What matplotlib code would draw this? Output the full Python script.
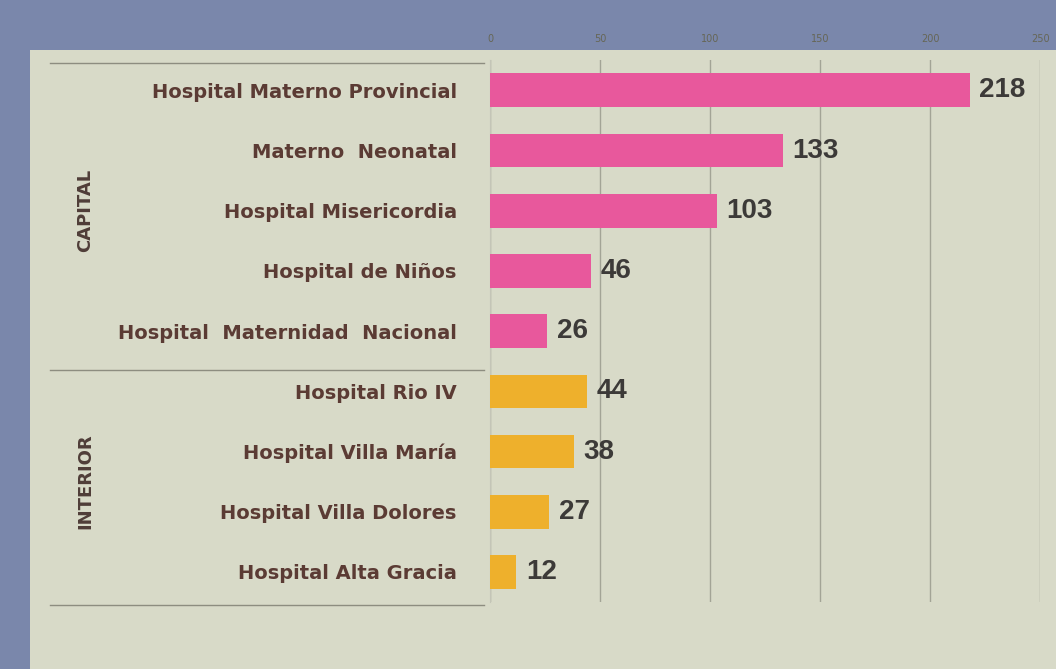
import matplotlib.pyplot as plt
import matplotlib.transforms as mtransforms
from matplotlib.patches import Rectangle

categories = ["Hospital Materno Provincial", "Materno  Neonatal", "Hospital Misericordia",
              "Hospital de Niños", "Hospital  Maternidad  Nacional",
              "Hospital Rio IV", "Hospital Villa María", "Hospital Villa Dolores",
              "Hospital Alta Gracia"]
values = [218, 133, 103, 46, 26, 44, 38, 27, 12]
groups = ["CAPITAL"] * 5 + ["INTERIOR"] * 4
group_names = ["CAPITAL", "INTERIOR"]
group_colors = {"CAPITAL": "#e8589c", "INTERIOR": "#eeb02c"}
xticks = [0, 50, 100, 150, 200, 250]

plt.rcParams['font.family'] = ['DejaVu Sans']

fig = plt.figure(figsize=(10.56, 6.69), dpi=100)
fig.patch.set_facecolor("#d8dac8")
# projector frame (bluish)
fig.add_artist(Rectangle((0, 0.925), 1, 0.075, transform=fig.transFigure,
                         facecolor="#7a87ab", edgecolor="none", zorder=0))
fig.add_artist(Rectangle((0, 0), 0.028, 1, transform=fig.transFigure,
                         facecolor="#7a87ab", edgecolor="none", zorder=0))

ax = fig.add_axes([0.464, 0.100, 0.521, 0.810])
ax.set_facecolor("#d8dac8")

ypos = list(range(len(categories)))
colors = [group_colors[g] for g in groups]
ax.barh(ypos, values, height=0.56, color=colors, zorder=3)

for y, v in zip(ypos, values):
    ax.annotate(str(v), (v, y), xytext=(7, 0), textcoords="offset points",
                va="center", ha="left", fontsize=20, fontweight="bold",
                family="Liberation Sans", color="#3c3a38", zorder=4)

ax.set_xlim(0, 250)
ax.set_ylim(len(categories) - 0.5, -0.5)
ax.set_xticks(xticks)
ax.set_xticklabels([str(t) for t in xticks], fontsize=7, color="#666655")
ax.xaxis.tick_top()
ax.tick_params(axis="x", length=0, pad=12)
ax.set_yticks(ypos)
ax.set_yticklabels(categories, fontsize=14, fontweight="bold", color="#5b3b34")
ax.tick_params(axis="y", length=0, pad=24)
ax.grid(axis="x", color="#a3a496", linewidth=1, zorder=1)

for s in ["top", "right", "bottom"]:
    ax.spines[s].set_visible(False)
ax.spines["left"].set_color("#c4c5b7")

# group separators and labels
trans = mtransforms.blended_transform_factory(ax.transAxes, ax.transData)
n_cap = groups.count("CAPITAL")
for yline in [-0.45, n_cap - 0.35, len(categories) - 0.45]:
    ax.plot([-0.80, -0.01], [yline, yline], transform=trans, color="#8d8d80",
            linewidth=1, clip_on=False)
start = 0
for g in group_names:
    n = groups.count(g)
    center = start + (n - 1) / 2
    ax.text(-0.735, center, g, transform=trans, rotation=90, ha="center",
            va="center", fontsize=13, fontweight="bold", color="#4f3d38")
    start += n

fig.savefig("out.png", dpi=100, facecolor=fig.get_facecolor())
